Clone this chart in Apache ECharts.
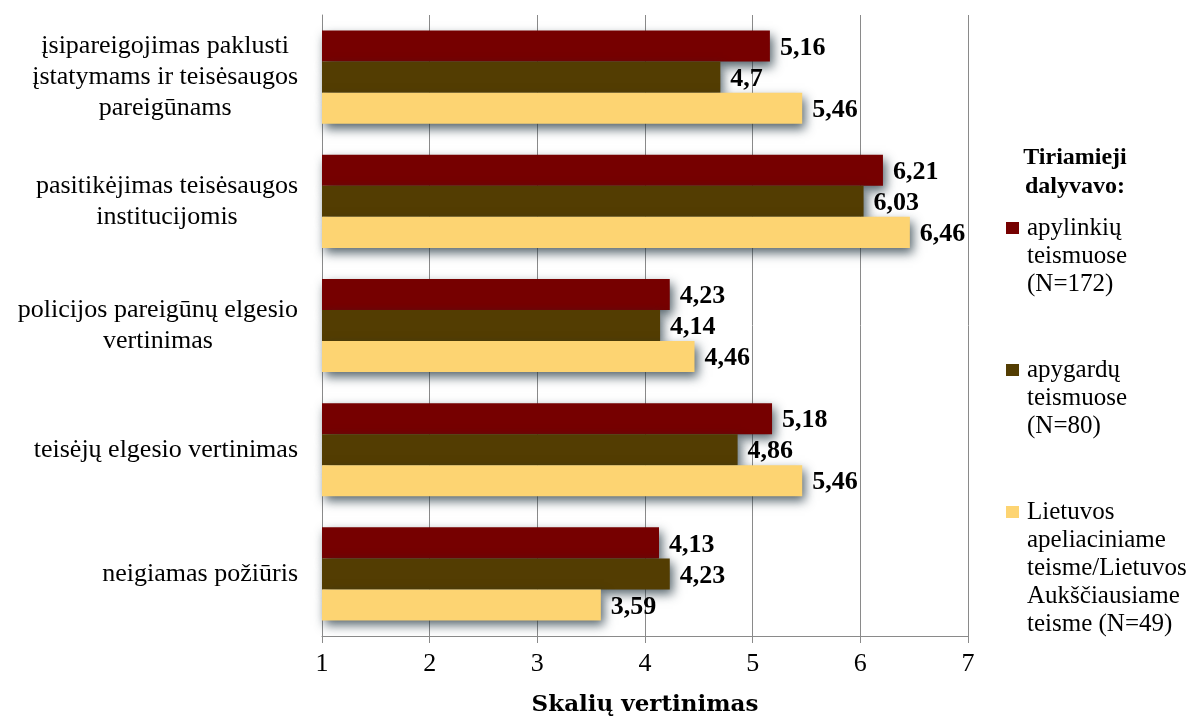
<!DOCTYPE html>
<html>
<head>
<meta charset="utf-8">
<script src="https://cdn.jsdelivr.net/npm/echarts@6/dist/echarts.min.js"></script>
<style>
  html, body { margin: 0; padding: 0; background: #fff; }
  #chart { width: 1199px; height: 719px; }
</style>
</head>
<body>
<div id="chart"></div>
<script>
let chart = echarts.init(document.getElementById('chart'));

// kategorijos (iš viršaus į apačią)
let categories = [
    'įsipareigojimas paklusti\nįstatymams ir teisėsaugos\npareigūnams',
    'pasitikėjimas teisėsaugos\ninstitucijomis',
    'policijos pareigūnų elgesio\nvertinimas',
    'teisėjų elgesio vertinimas',
    'neigiamas požiūris'
];
let seriesNames = [
    'apylinkių teismuose (N=172)',
    'apygardų teismuose (N=80)',
    'Lietuvos apeliaciniame teisme/Lietuvos Aukščiausiame teisme (N=49)'
];
// legendos tekstas eilutėmis
let legendLines = [
    ['apylinkių', 'teismuose', '(N=172)'],
    ['apygardų', 'teismuose', '(N=80)'],
    ['Lietuvos', 'apeliaciniame', 'teisme/Lietuvos', 'Aukščiausiame', 'teisme (N=49)']
];
let apylinkiu = [5.16, 6.21, 4.23, 5.18, 4.13];
let apygardu = [4.7, 6.03, 4.14, 4.86, 4.23];
let aukstesniu = [5.46, 6.46, 4.46, 5.46, 3.59];
let xTicks = [1, 2, 3, 4, 5, 6, 7];

let colors = ['#760000', '#533d02', '#fdd472'];
let serif = '"Liberation Serif", "Times New Roman", serif';

function makeSeries(name, data, color) {
    return {
        name: name,
        type: 'bar',
        data: data,
        barGap: '0%',
        barCategoryGap: '25%',
        itemStyle: {
            color: color,
            shadowColor: 'rgba(30,50,60,0.75)',
            shadowBlur: 10,
            shadowOffsetX: 3,
            shadowOffsetY: 5
        },
        label: {
            show: true,
            position: 'right',
            distance: 10,
            offset: [0, 2],
            color: '#000',
            fontFamily: serif,
            fontWeight: 'bold',
            fontSize: 26,
            formatter: function (p) {
                return String(p.value).replace('.', ',');
            }
        }
    };
}

let option = {
    animation: false,
    textStyle: { fontFamily: serif },
    title: {
        text: 'Tiriamieji\ndalyvavo:',
        left: 1075,
        top: 143,
        textAlign: 'center',
        padding: 0,
        textStyle: {
            fontFamily: serif,
            fontWeight: 'bold',
            fontSize: 24,
            lineHeight: 29,
            color: '#000'
        }
    },
    legend: {
        orient: 'vertical',
        left: 1006,
        top: 214,
        padding: 0,
        itemGap: 2,
        itemWidth: 16,
        itemHeight: 140,
        icon: 'path://M0,0M0,8h13v12h-13zM16,140',
        selectedMode: false,
        data: seriesNames,
        formatter: function (name) {
            let lines = legendLines[seriesNames.indexOf(name)].slice();
            while (lines.length < 5) lines.push(' ');
            return lines.join('\n');
        },
        textStyle: {
            fontFamily: serif,
            fontSize: 25,
            lineHeight: 28,
            color: '#000'
        }
    },
    grid: {
        left: 322,
        right: 231,
        top: 15,
        bottom: 83,
        containLabel: false,
        outerBoundsMode: 'none'
    },
    xAxis: {
        type: 'value',
        min: xTicks[0],
        max: xTicks[xTicks.length - 1],
        interval: 1,
        name: 'Skalių vertinimas',
        nameLocation: 'middle',
        nameGap: 58,
        nameTextStyle: {
            fontFamily: '"DejaVu Serif", serif',
            fontWeight: 'bold',
            fontSize: 23,
            color: '#000'
        },
        axisLine: { show: true, lineStyle: { color: '#8a8a8a', width: 1 } },
        axisTick: { show: true, length: 7, lineStyle: { color: '#8a8a8a' } },
        axisLabel: {
            margin: 15,
            fontFamily: serif,
            fontSize: 26,
            color: '#000'
        },
        splitLine: { show: true, lineStyle: { color: '#8a8a8a', width: 1 } }
    },
    yAxis: {
        type: 'category',
        inverse: true,
        data: categories,
        axisLine: { show: true, lineStyle: { color: '#8a8a8a', width: 1 } },
        axisTick: { show: false },
        axisLabel: {
            margin: 24,
            align: 'right',
            formatter: function (v) {
                return v.split('\n').map(function (s) { return '{c|' + s + '}'; }).join('\n');
            },
            rich: {
                c: {
                    align: 'center',
                    fontFamily: serif,
                    fontSize: 26,
                    lineHeight: 31,
                    color: '#000'
                }
            }
        }
    },
    series: [
        makeSeries(seriesNames[0], apylinkiu, colors[0]),
        makeSeries(seriesNames[1], apygardu, colors[1]),
        makeSeries(seriesNames[2], aukstesniu, colors[2])
    ]
};

chart.setOption(option);
window.addEventListener('resize', function () { chart.resize(); });
</script>
</body>
</html>
